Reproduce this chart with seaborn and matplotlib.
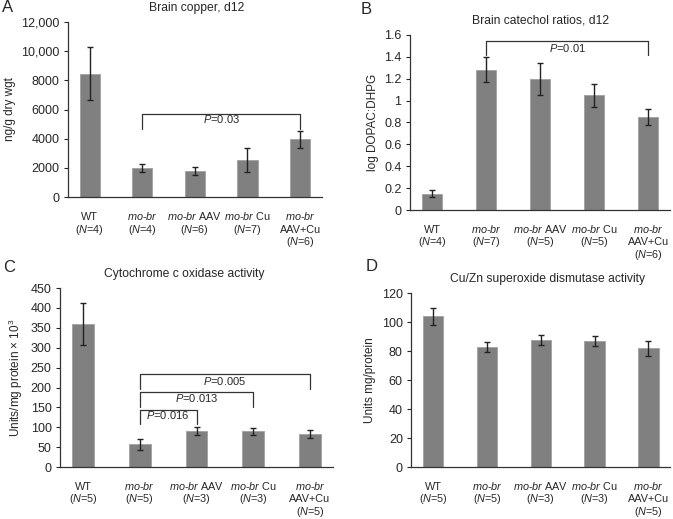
import numpy as np
import pandas as pd
import seaborn as sns
import matplotlib.pyplot as plt
from matplotlib.transforms import offset_copy

sns.set_style("ticks")
plt.rcParams["font.family"] = ["Liberation Sans", "DejaVu Sans"]
plt.rcParams["mathtext.fontset"] = "custom"
plt.rcParams["mathtext.rm"] = "Liberation Sans"
plt.rcParams["mathtext.it"] = "Liberation Sans:italic"
plt.rcParams["mathtext.default"] = "regular"

# Data (mean +/- error)
groups = ["WT", "mo-br", "mo-br AAV", "mo-br Cu", "mo-br AAV+Cu"]

copper_mean = [8450, 2000, 1800, 2550, 3950]
copper_err = [1800, 250, 300, 800, 600]
copper_n = [4, 4, 6, 7, 6]

catechol_mean = [0.15, 1.28, 1.20, 1.05, 0.85]
catechol_err = [0.03, 0.115, 0.145, 0.105, 0.07]
catechol_n = [4, 7, 5, 5, 6]

cox_mean = [360, 57, 90, 90, 83]
cox_err = [52, 13, 10, 9, 10]
cox_n = [5, 5, 3, 3, 5]

sod_mean = [104, 83, 88, 87, 82]
sod_err = [6, 3.5, 3.5, 3.5, 5]
sod_n = [5, 5, 3, 3, 5]

# brackets: (x1, x2, top, end, text y, label)
copper_brackets = [(1, 4, 5700, 4700, 5330, "0.03")]
catechol_brackets = [(1, 4, 1.545, 1.417, 1.478, "0.01")]
cox_brackets = [
    (1, 2, 144, 108, 131, "0.016"),
    (1, 3, 188, 152, 173, "0.013"),
    (1, 4, 233, 196, 216, "0.005"),
]


def tick_lines(g, n):
    nn = "($\\mathit{N}$=%d)" % n
    mobr = "$\\mathit{mo}$-$\\mathit{br}$"
    if g == "WT":
        return ["WT", nn]
    if g == "mo-br":
        return [mobr, nn]
    if g == "mo-br AAV+Cu":
        return [mobr, "AAV+Cu", nn]
    return [mobr + " " + g.split(" ")[1], nn]


def panel(ax, mean, err, ns, ymax, ystep, ylabel, title, fmt, brackets=(),
          title_x=0.5):
    df = pd.DataFrame({"group": groups, "value": mean})
    sns.barplot(data=df, x="group", y="value", ax=ax, color="#808080",
                width=0.38, saturation=1, errorbar=None,
                edgecolor="#a0a0a0", linewidth=0.6)
    ax.errorbar(np.arange(len(groups)), mean, yerr=err, fmt="none",
                ecolor="#222222", elinewidth=1, capsize=2.5, capthick=1)
    ax.set_ylim(0, ymax)
    ticks = np.arange(0, ymax + ystep / 2, ystep)
    ax.set_yticks(ticks)
    ax.set_yticklabels([fmt(t) for t in ticks], fontsize=9)
    ax.set_xticks(range(len(groups)))
    ax.set_xticklabels([])
    ax.tick_params(axis="x", length=0)
    ax.tick_params(axis="y", length=3, width=0.8, pad=3)
    # category labels, one text per line so the baselines line up
    for i, (g, n) in enumerate(zip(groups, ns)):
        for j, line in enumerate(tick_lines(g, n)):
            tr = offset_copy(ax.get_xaxis_transform(), fig=ax.figure,
                             y=-(22.6 + 12.7 * j), units="dots")
            ax.text(i, 0, line, transform=tr, ha="center", va="baseline",
                    fontsize=7.8)
    ax.set_xlabel("")
    ax.set_ylabel(ylabel, fontsize=8.5)
    ax.set_title(title, fontsize=8.7, pad=8, x=title_x)
    for side in ["left", "bottom"]:
        ax.spines[side].set_color("#333333")
        ax.spines[side].set_linewidth(0.9)
    sns.despine(ax=ax)
    for x1, x2, top, end, ty, lab in brackets:
        ax.plot([x1, x1, x2, x2], [end, top, top, end], color="#333333", lw=0.9)
        ax.text((x1 + x2) / 2, ty, "$\\mathit{P}$=" + lab, ha="center",
                va="center", fontsize=8)


fig = plt.figure(figsize=(6.73, 5.19), dpi=100)
axA = fig.add_axes([0.101, 0.620, 0.377, 0.338])
axB = fig.add_axes([0.609, 0.595, 0.387, 0.338])
axC = fig.add_axes([0.089, 0.100, 0.406, 0.345])
axD = fig.add_axes([0.611, 0.100, 0.385, 0.335])

panel(axA, copper_mean, copper_err, copper_n, 12000, 2000, "ng/g dry wgt",
      "Brain copper, d12",
      lambda t: "{:,.0f}".format(t) if t >= 10000 else "%d" % t,
      copper_brackets, title_x=0.508)
panel(axB, catechol_mean, catechol_err, catechol_n, 1.6, 0.2,
      "log DOPAC:DHPG", "Brain catechol ratios, d12",
      lambda t: ("%g" % round(t, 1)), catechol_brackets)
panel(axC, cox_mean, cox_err, cox_n, 450, 50,
      "Units/mg protein $\\times$ 10$^3$", "Cytochrome c oxidase activity",
      lambda t: "%d" % t, cox_brackets, title_x=0.455)
panel(axD, sod_mean, sod_err, sod_n, 120, 20, "Units mg/protein",
      "Cu/Zn superoxide dismutase activity", lambda t: "%d" % t,
      title_x=0.525)

for lab, x, y in [("A", 0.003, 0.985), ("B", 0.536, 0.982),
                  ("C", 0.005, 0.484), ("D", 0.543, 0.487)]:
    fig.text(x, y, lab, fontsize=12, ha="left", va="center")

fig.savefig("out.png", dpi=100)
